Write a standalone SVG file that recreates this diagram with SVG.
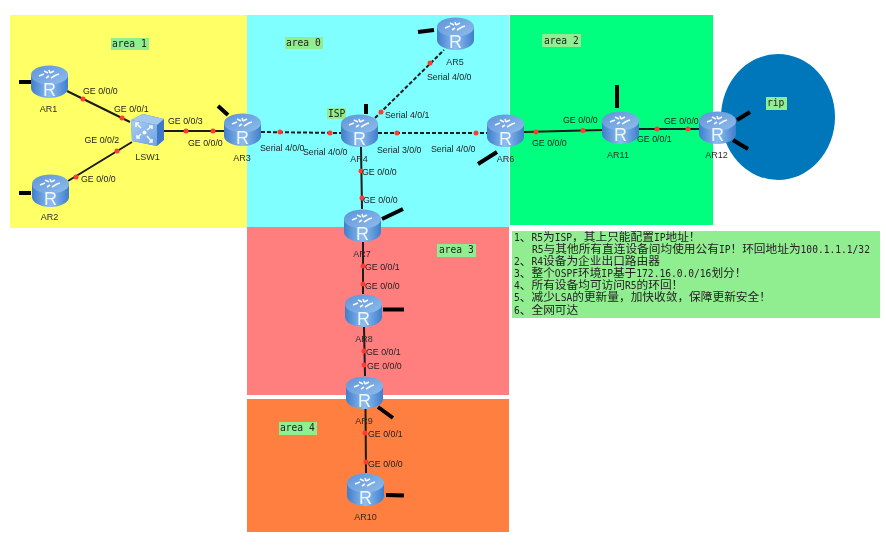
<svg xmlns="http://www.w3.org/2000/svg" width="886" height="548" viewBox="0 0 886 548">
<style>
.lk{stroke:#1a1a1a;stroke-width:2;fill:none}
.ds{stroke-dasharray:4 2}
.st{stroke:#000;stroke-width:4;fill:none}
.dot{fill:#ff3b30}
.if{font:8.8px "Liberation Sans",Arial,sans-serif;fill:#222}
.nm{font:9px "Liberation Sans",Arial,sans-serif;fill:#2c2c2c;text-anchor:middle}
.r{font:18px "Liberation Sans",Arial,sans-serif;fill:#eef6ff;text-anchor:middle}
.tag{fill:#90ee90}
.m{font:9.6px "DejaVu Sans Mono",monospace;fill:#222}
.c{font:11.7px "Noto Sans CJK SC",sans-serif;fill:#222}
.l{font:9.6px "DejaVu Sans Mono",monospace}
</style>
<defs>
<filter id="soft" x="0" y="0" width="100%" height="100%"><feGaussianBlur stdDeviation="0.55"/></filter>
<linearGradient id="body" x1="0" x2="1" y1="0" y2="0"><stop offset="0" stop-color="#3f7ecb"/><stop offset=".5" stop-color="#8dbdf0"/><stop offset="1" stop-color="#3f7ecb"/></linearGradient>
<linearGradient id="top" x1="0" x2="1" y1="0" y2="1"><stop offset="0" stop-color="#5d93d8"/><stop offset="1" stop-color="#8fbdec"/></linearGradient>
<linearGradient id="sw" x1="0" x2="1" y1="0" y2="1"><stop offset="0" stop-color="#a9cdf3"/><stop offset="1" stop-color="#6fa3e2"/></linearGradient>
<g id="rt">
<path d="M0 10V23A18.5 10 0 0 0 37 23V10Z" fill="url(#body)"/>
<ellipse cx="18.5" cy="10" rx="18.500" ry="9.500" fill="url(#top)"/>
<path d="M8 11l5-2M13 6l4 2M20 13l5-3M23 6l-4 2M15 13l3-2M18 5l1 3M28 9l-3 1" stroke="#f4f9ff" stroke-width="1.6" fill="none"/>
</g>
</defs>
<rect width="886" height="548" fill="#fff"/>
<g filter="url(#soft)">
<g id="areas">
<rect x="10" y="15" width="237" height="213" fill="#ffff66"/>
<rect x="247" y="15" width="262" height="212" fill="#7fffff"/>
<rect x="510" y="15" width="203" height="210" fill="#00ff7f"/>
<rect x="247" y="227" width="262" height="168" fill="#ff7f7f"/>
<rect x="247" y="399" width="262" height="133" fill="#ff7f3f"/>
<ellipse cx="778" cy="117" rx="57" ry="63" fill="#0077bb"/>
</g>
<g id="area-labels">
<rect class="tag" x="111" y="38" width="38" height="12"/><text class="m" x="112" y="47">area 1</text>
<rect class="tag" x="285" y="37" width="38" height="12"/><text class="m" x="286" y="45.500">area 0</text>
<rect class="tag" x="542" y="34" width="39" height="13"/><text class="m" x="544" y="44">area 2</text>
<rect class="tag" x="437" y="244" width="39" height="13"/><text class="m" x="439" y="253">area 3</text>
<rect class="tag" x="279" y="422" width="38" height="13"/><text class="m" x="280" y="431">area 4</text>
<rect class="tag" x="327" y="108" width="19" height="11"/><text class="m" x="328" y="116.500">ISP</text>
<rect class="tag" x="766" y="97" width="21" height="13"/><text class="m" x="767" y="106">rip</text>
</g>
<g id="note">
<rect x="512" y="231" width="368" height="87" fill="#90ee90"/>
<text class="c">
<tspan x="514" y="241"><tspan class="l">1</tspan>、<tspan class="l">R5</tspan>为<tspan class="l">ISP</tspan>，其上只能配置<tspan class="l">IP</tspan>地址！</tspan>
<tspan x="532" y="253"><tspan class="l">R5</tspan>与其他所有直连设备间均使用公有<tspan class="l">IP</tspan>！环回地址为<tspan class="l">100.1.1.1/32</tspan></tspan>
<tspan x="514" y="265"><tspan class="l">2</tspan>、<tspan class="l">R4</tspan>设备为企业出口路由器</tspan>
<tspan x="514" y="277"><tspan class="l">3</tspan>、整个<tspan class="l">OSPF</tspan>环境<tspan class="l">IP</tspan>基于<tspan class="l">172.16.0.0/16</tspan>划分！</tspan>
<tspan x="514" y="289"><tspan class="l">4</tspan>、所有设备均可访问<tspan class="l">R5</tspan>的环回！</tspan>
<tspan x="514" y="301"><tspan class="l">5</tspan>、减少<tspan class="l">LSA</tspan>的更新量，加快收敛，保障更新安全！</tspan>
<tspan x="514" y="314"><tspan class="l">6</tspan>、全网可达</tspan>
</text>
</g>
<g id="connectors">
<path class="lk" d="M67 91L130 122M68 181L132 142M164 131H224M524 132L602 130M638 129H699M361 147L362 209M363 242V294M364 327L365 376M365.500 409L366 473"/>
<path class="lk ds" d="M261 132L341 133M375 118L444 50M378 133H487"/>
<path class="st" d="M19 82H31M19 193H31M218 106L228 115M366 104V114M418 32L434 30M478 164L497 152M382 219L403 209M383 309.500H404M378 407L393 418M386 495L404 495.500M617 85V108M737 120L750 112M733 140L748 149"/>
<g class="dot">
<circle cx="83" cy="99" r="2.500"/><circle cx="122" cy="118" r="2.500"/><circle cx="117" cy="151" r="2.500"/><circle cx="76" cy="177" r="2.500"/>
<circle cx="186" cy="131" r="2.500"/><circle cx="213" cy="131" r="2.500"/><circle cx="280" cy="132" r="2.500"/><circle cx="330" cy="133" r="2.500"/>
<circle cx="381" cy="112" r="2.500"/><circle cx="430" cy="63" r="2.500"/><circle cx="397" cy="133" r="2.500"/><circle cx="476" cy="133" r="2.500"/>
<circle cx="361" cy="171" r="2.500"/><circle cx="362" cy="198" r="2.500"/><circle cx="536" cy="132" r="2.500"/><circle cx="583" cy="130.500" r="2.500"/>
<circle cx="657" cy="129" r="2.500"/><circle cx="688" cy="129" r="2.500"/><circle cx="363" cy="266" r="2.500"/><circle cx="363" cy="284" r="2.500"/>
<circle cx="364" cy="351" r="2.500"/><circle cx="364" cy="365" r="2.500"/><circle cx="365" cy="433" r="2.500"/><circle cx="366" cy="462" r="2.500"/>
</g>
<g id="interface-labels">
<text class="if" x="83" y="94">GE 0/0/0</text><text class="if" x="114" y="112">GE 0/0/1</text>
<text class="if" x="84.500" y="143">GE 0/0/2</text><text class="if" x="81" y="182">GE 0/0/0</text>
<text class="if" x="168" y="124">GE 0/0/3</text><text class="if" x="188" y="146">GE 0/0/0</text>
<text class="if" x="260" y="151">Serial 4/0/0</text><text class="if" x="303" y="155">Serial 4/0/0</text>
<text class="if" x="377" y="153">Serial 3/0/0</text><text class="if" x="431" y="152">Serial 4/0/0</text>
<text class="if" x="385" y="117.500">Serial 4/0/1</text><text class="if" x="427" y="80">Serial 4/0/0</text>
<text class="if" x="362" y="175">GE 0/0/0</text><text class="if" x="363" y="203">GE 0/0/0</text>
<text class="if" x="532" y="146">GE 0/0/0</text><text class="if" x="563" y="123">GE 0/0/0</text>
<text class="if" x="637" y="141.500">GE 0/0/1</text><text class="if" x="664" y="124">GE 0/0/0</text>
<text class="if" x="365" y="270">GE 0/0/1</text><text class="if" x="365" y="288.500">GE 0/0/0</text>
<text class="if" x="366" y="355">GE 0/0/1</text><text class="if" x="367" y="369">GE 0/0/0</text>
<text class="if" x="368" y="437">GE 0/0/1</text><text class="if" x="368" y="467">GE 0/0/0</text>
</g>
</g>
<g id="AR1"><use href="#rt" x="31" y="65"/><text class="r" x="49.500" y="96">R</text><text class="nm" x="48.500" y="112">AR1</text></g>
<g id="AR2"><use href="#rt" x="32" y="174"/><text class="r" x="50.500" y="205">R</text><text class="nm" x="49.500" y="220">AR2</text></g>
<g id="LSW1">
<path d="M131 120L143 114L164 119V140L157 146L132 141Z" fill="#3f78c8"/>
<path d="M131 120L157 125V146L132 141Z" fill="url(#sw)"/>
<path d="M131 120L143 114L164 119L157 125Z" fill="#a5c8ef"/>
<path d="M136 123L141 128M139 123H136V127M152 126L147 130M149 126H152V129M137 138L141 134M137 135V138H140M152 142L147 136M152 139V142H149" stroke="#f2f8ff" stroke-width="1.600" fill="none"/>
<circle cx="144.500" cy="132.500" r="2" fill="#fff"/>
<text class="nm" x="147.500" y="160">LSW1</text>
</g>
<g id="AR3"><use href="#rt" x="224" y="113"/><text class="r" x="242.500" y="144">R</text><text class="nm" x="242" y="161">AR3</text></g>
<g id="AR4"><use href="#rt" x="341" y="114"/><text class="r" x="359.500" y="145">R</text><text class="nm" x="359" y="162">AR4</text></g>
<g id="AR5"><use href="#rt" x="437" y="17"/><text class="r" x="455.500" y="48">R</text><text class="nm" x="455" y="65">AR5</text></g>
<g id="AR6"><use href="#rt" x="487" y="114"/><text class="r" x="505.500" y="145">R</text><text class="nm" x="505.500" y="162">AR6</text></g>
<g id="AR7"><use href="#rt" x="344" y="209"/><text class="r" x="362.500" y="240">R</text><text class="nm" x="362" y="256.500">AR7</text></g>
<g id="AR8"><use href="#rt" x="345" y="294"/><text class="r" x="363.500" y="325">R</text><text class="nm" x="364" y="342">AR8</text></g>
<g id="AR9"><use href="#rt" x="346" y="376"/><text class="r" x="364.500" y="407">R</text><text class="nm" x="364" y="424">AR9</text></g>
<g id="AR10"><use href="#rt" x="347" y="473"/><text class="r" x="365.500" y="504">R</text><text class="nm" x="365.500" y="520">AR10</text></g>
<g id="AR11"><use href="#rt" x="602" y="111"/><text class="r" x="620.500" y="141">R</text><text class="nm" x="618" y="158">AR11</text></g>
<g id="AR12"><use href="#rt" x="699" y="111"/><text class="r" x="717.500" y="141">R</text><text class="nm" x="716.500" y="158">AR12</text></g>
</g>
</svg>
